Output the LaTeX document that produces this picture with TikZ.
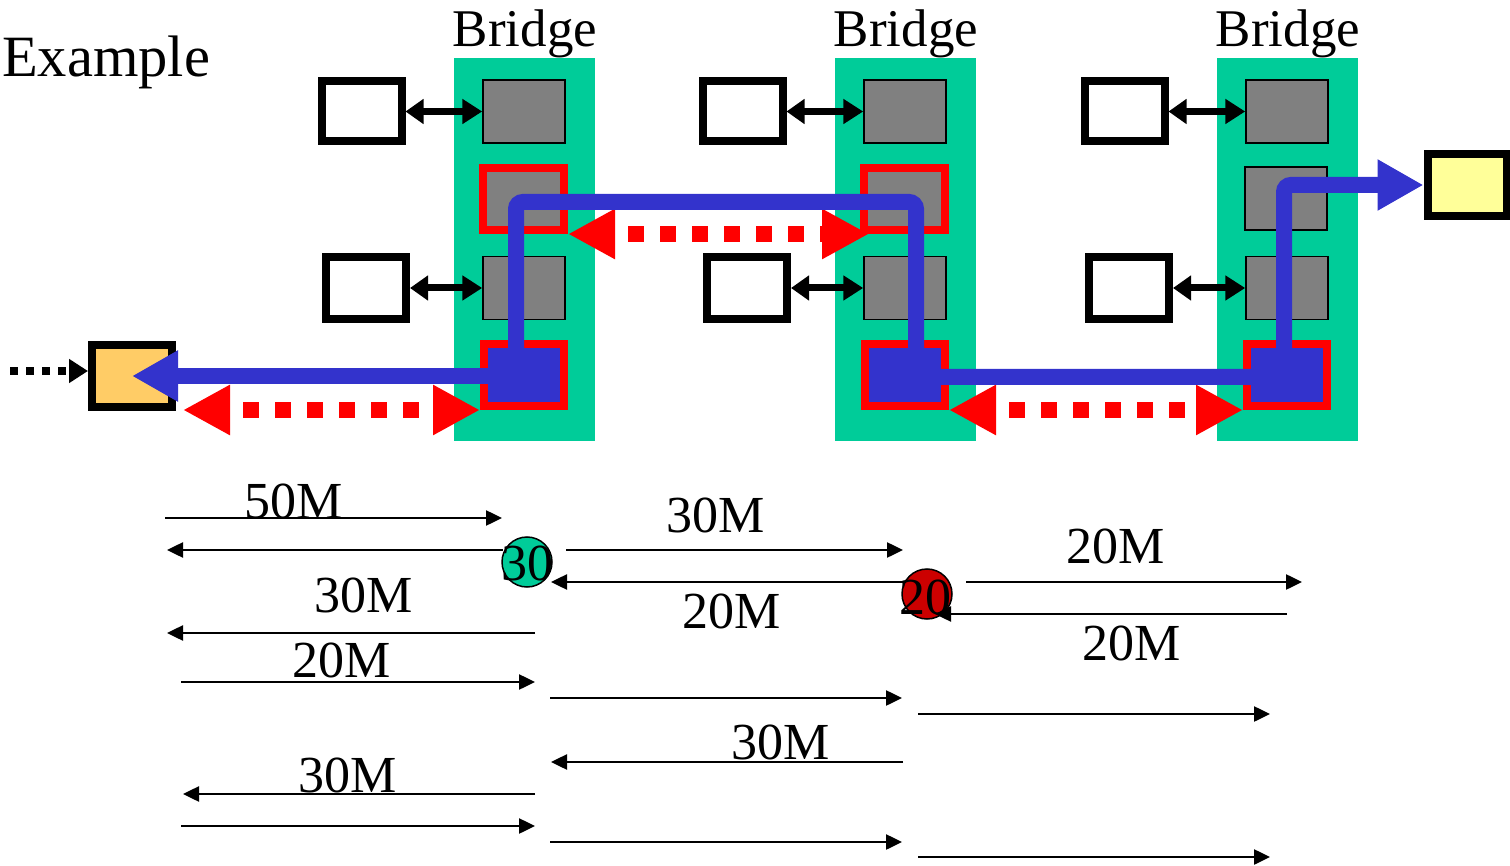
\documentclass[tikz,border=0pt]{standalone}
\usepackage{fontspec}
\setmainfont{Liberation Serif}
\usetikzlibrary{arrows.meta,calc}
\definecolor{brgreen}{HTML}{00CC99}
\definecolor{pgray}{HTML}{808080}
\definecolor{pblue}{HTML}{3333CC}
\definecolor{pred}{HTML}{FF0000}
\definecolor{porange}{HTML}{FFCC66}
\definecolor{pyellow}{HTML}{FFFF99}
\definecolor{cred}{HTML}{CC0000}
\begin{document}
\begin{tikzpicture}[x=1pt,y=-1pt,
  bridgebox/.style={rectangle, fill=brgreen, minimum width=141pt, minimum height=383pt, inner sep=0pt, outer sep=0pt},
  grayport/.style={rectangle, fill=pgray, draw=black, line width=1.5pt, minimum width=82pt, minimum height=63pt, inner sep=0pt},
  redport/.style={rectangle, fill=pgray, draw=pred, line width=8pt, minimum width=81pt, minimum height=62pt, inner sep=0pt},
  blueport/.style={rectangle, fill=pblue, draw=pred, line width=8pt, minimum width=80pt, minimum height=62pt, inner sep=0pt},
  hostbox/.style={rectangle, fill=white, draw=black, line width=8pt, minimum width=80pt, minimum height=60pt, inner sep=0pt},
  endbox/.style={rectangle, draw=black, line width=8pt, minimum width=79pt, minimum height=62pt, inner sep=0pt},
  harrow/.style={line width=7pt, {Triangle[length=18pt,width=24pt]}-{Triangle[length=20pt,width=24pt]}},
  reddash/.style={pred, line width=16pt, dash pattern=on 16pt off 16pt, dash phase=16pt, {Triangle[length=47pt,width=47pt]}-{Triangle[length=47pt,width=47pt]}},
  bluepath/.style={pblue, line width=16pt},
  dotarrow/.style={line width=8pt, dash pattern=on 8pt off 8pt, -{Triangle[length=19pt,width=23pt]}},
  flow/.style={line width=2.5pt, -{Triangle[length=16pt,width=15pt]}},
  numcirc/.style={circle, draw=black, line width=1.5pt, minimum size=50pt, inner sep=0pt},
  lbl/.style={font=\fontsize{52}{60}\selectfont, inner sep=0pt, anchor=base},
  numtxt/.style={font=\fontsize{52}{60}\selectfont, inner sep=0pt, anchor=center},
  titletxt/.style={font=\fontsize{53}{62}\selectfont, inner sep=0pt, anchor=base}
]
\useasboundingbox (0,0) rectangle (1510,866);

% title
\node[font=\fontsize{58.5}{66}\selectfont, inner sep=0pt, anchor=base west] (title) at (2,77) {Example};

% bridges
\foreach \i/\bx in {1/454, 2/835, 3/1217}{
  \node[bridgebox] (br\i) at (\bx+70.5,249.5) {};
  \node[titletxt] (bl\i) at (\bx+71,47) {Bridge};
  \node[grayport] (p\i1) at (\bx+70,111.5) {};
  \node[grayport] (p\i3) at (\bx+70,288) {};
  \node[blueport] (p\i4) at (\bx+70,375) {};
  \node[hostbox] (h\i1) at (\bx-92.5,111.5) {};
  \node[hostbox, minimum height=62pt] (h\i2) at (\bx-88,288) {};
}
\node[redport] (p12) at (523.5,199) {};
\node[redport] (p22) at (904.5,199) {};
\node[grayport] (p32) at (1286,198.5) {};

\foreach \i in {1,2,3}{
  \draw[harrow] (h\i1.east) -- (p\i1.west);
  \draw[harrow] (h\i2.east) -- (p\i3.west);
}

% end stations
\node[endbox, fill=porange, minimum width=80pt] (org) at (132,376) {};
\node[endbox, fill=pyellow] (yel) at (1467,185) {};

% dotted input arrow
\coordinate (dotstart) at (10,371);
\draw[dotarrow] (dotstart) -- (org.west |- dotstart);

% red dotted double arrows
\coordinate (ra1) at (183,410);
\draw[reddash] (ra1) -- (p14.south west);
\draw[reddash] (p12.south east) -- ($(p22.south west)+(9,0)$);
\draw[reddash] (p24.south east) -- (p34.south west);

% blue spanning path
\coordinate (t0) at (516,376);
\coordinate (t1) at (516,202);
\coordinate (t2) at (916,202);
\coordinate (t3) at (916,377);
\coordinate (t4) at (1284,377);
\coordinate (t5) at (1284,185);
\draw[bluepath, rounded corners=7pt, -{Triangle[length=46pt,width=48pt]}] (t0) -- (t1) -- (t2) -- (t3) -- (t4) -- (t5) -- (yel.west);
\draw[bluepath, -{Triangle[length=46pt,width=48pt]}] (t0) -- (org.center);

% lower part: circles
\node[numcirc, fill=brgreen] (c1) at (527,562) {};
\node[numcirc, fill=cred] (c2) at (927,594) {};

% flow arrows
\foreach \n/\xa/\xb/\yy in {1/165/502/518, 2/503/167/550, 3/535/167/633, 4/181/535/682, 5/535/183/794, 6/181/535/826, 7/566/903/550, 8/905/551/582, 9/550/902/698, 10/903/551/762, 11/550/902/842, 12/966/1302/582, 13/1287/935/614, 14/918/1270/714, 15/918/1270/857}{
  \coordinate (fs\n) at (\xa,\yy);
  \coordinate (fe\n) at (\xb,\yy);
  \draw[flow] (fs\n) -- (fe\n);
}

% circle numbers
\node[numtxt] (c1t) at ($(c1.center)+(0,1.5)$) {30};
\node[numtxt] (c2t) at ($(c2.center)+(-2,3)$) {20};

% labels
\node[lbl] (l1) at (294,518) {50M};
\node[lbl] (l2) at (364,612) {30M};
\node[lbl] (l3) at (342,677) {20M};
\node[lbl] (l4) at (348,792) {30M};
\node[lbl] (l5) at (716,532) {30M};
\node[lbl] (l6) at (732,628) {20M};
\node[lbl] (l7) at (781,759) {30M};
\node[lbl] (l8) at (1116,563) {20M};
\node[lbl] (l9) at (1132,660) {20M};
\end{tikzpicture}
\end{document}
